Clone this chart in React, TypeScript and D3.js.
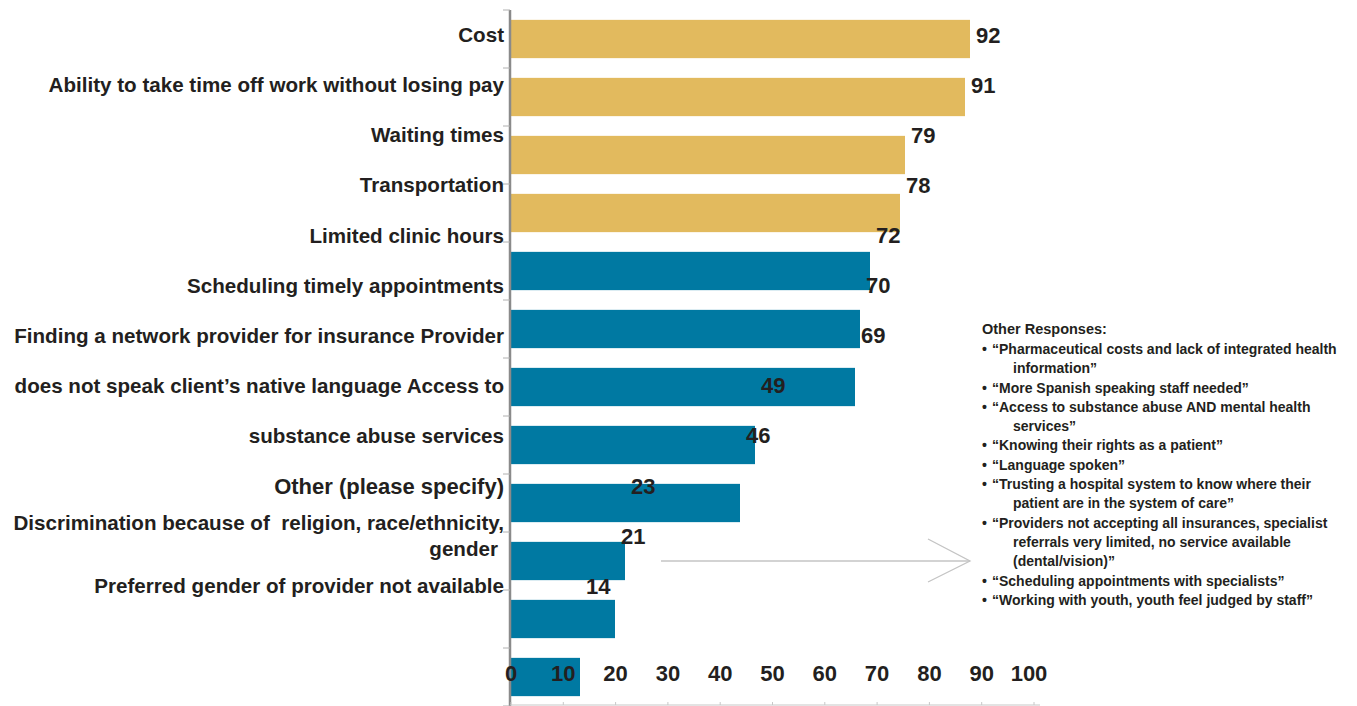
import React from "react";
import * as d3 from "d3";

// ---- data ----
const categories = [
  "Cost",
  "Ability to take time off work without losing pay",
  "Waiting times",
  "Transportation",
  "Limited clinic hours",
  "Scheduling timely appointments",
  "Finding a network provider for insurance",
  "Provider does not speak client’s native language",
  "Access to substance abuse services",
  "Other (please specify)",
  "Discrimination because of religion, race/ethnicity, gender",
  "Preferred gender of provider not available",
];
const values = [92, 91, 79, 78, 72, 70, 69, 49, 46, 23, 21, 14];
const highlightCount = 4; // first four bars are gold

// category text lines, as they are set in the reference
const labelLines: string[][] = [
  ["Cost"],
  ["Ability to take time off work without losing pay"],
  ["Waiting times"],
  ["Transportation"],
  ["Limited clinic hours"],
  ["Scheduling timely appointments"],
  ["Finding a network provider for insurance Provider"],
  ["does not speak client’s native language Access to"],
  ["substance abuse services"],
  ["Other (please specify)"],
  ["Discrimination because of  religion, race/ethnicity,", "gender"],
  ["Preferred gender of provider not available"],
];
const labelSizes = [20.6, 20.6, 20.6, 20.6, 20.6, 20.6, 20.6, 20.6, 20.6, 22, 20.6, 20.6];

const xTicks = [0, 10, 20, 30, 40, 50, 60, 70, 80, 90, 100];

const otherTitle = "Other Responses:";
const otherResponses: string[][] = [
  ["“Pharmaceutical costs and lack of integrated health", "information”"],
  ["“More Spanish speaking staff needed”"],
  ["“Access to substance abuse AND mental health", "services”"],
  ["“Knowing their rights as a patient”"],
  ["“Language spoken”"],
  ["“Trusting a hospital system to know where their", "patient are in the system of care”"],
  [
    "“Providers not accepting all insurances, specialist",
    "referrals very limited, no service available",
    "(dental/vision)”",
  ],
  ["“Scheduling appointments with specialists”"],
  ["“Working with youth, youth feel judged by staff”"],
];

// ---- styles ----
const W = 1357;
const H = 706;
const GOLD = "#E2BA5E";
const BLUE = "#0079A2";
const TEXT = "#231F20";
const FONT = "'Liberation Sans', Arial, Helvetica, sans-serif";

export default function App() {
  const idx = values.map((_, i) => i);

  const yTop = 10;
  const yBottom = 706;
  const axisX = 510;

  const yBand = d3
    .scaleBand<number>()
    .domain(idx)
    .range([yTop, yBottom])
    .paddingInner(0.34)
    .paddingOuter(0.17);

  const yBound = d3.scaleLinear().domain([0, idx.length]).range([yTop, yBottom]);

  // bar length scale
  const xBar = d3.scaleLinear().domain([0, 100]).range([axisX, axisX + 500]);
  // tick label scale (as printed in the reference)
  const xTick = d3.scaleLinear().domain([0, 100]).range([axisX + 1, axisX + 524]);

  // label rows (category text + value labels)
  const yRow = d3.scalePoint<number>().domain(idx).range([35, 586]);

  // other responses layout: uniform line step
  const respLines: { text: string; first: boolean }[] = [];
  otherResponses.forEach((item) => {
    item.forEach((t, j) => respLines.push({ text: t, first: j === 0 }));
  });
  const yResp = d3
    .scaleLinear()
    .domain([0, respLines.length - 1])
    .range([349, 600]);

  const bottomAxisY = 705;

  return (
    <svg
      width={W}
      height={H}
      style={{ position: "absolute", left: 0, top: 0, display: "block", background: "#fff" }}
      fontFamily={FONT}
    >
      {/* bars */}
      {idx.map((i) => (
        <rect
          key={"bar" + i}
          x={xBar(0)}
          y={yBand(i)}
          width={xBar(values[i]) - xBar(0)}
          height={yBand.bandwidth()}
          fill={i < highlightCount ? GOLD : BLUE}
        >
          <title>{categories[i] + ": " + values[i]}</title>
        </rect>
      ))}

      {/* vertical axis */}
      <line x1={axisX} x2={axisX} y1={yTop} y2={yBottom} stroke="#8a8a8a" strokeWidth={2.5} />
      {d3.range(idx.length + 1).map((b) => (
        <line
          key={"yt" + b}
          x1={axisX - 7}
          x2={axisX}
          y1={yBound(b)}
          y2={yBound(b)}
          stroke="#b0b0b0"
          strokeWidth={1}
        />
      ))}

      {/* bottom axis */}
      <line
        x1={axisX}
        x2={xTick(100) + 6}
        y1={bottomAxisY}
        y2={bottomAxisY}
        stroke="#c8c8c8"
        strokeWidth={1.2}
      />
      {xTicks.map((t) => (
        <line
          key={"xt" + t}
          x1={xTick(t)}
          x2={xTick(t)}
          y1={bottomAxisY}
          y2={bottomAxisY - 3}
          stroke="#c8c8c8"
          strokeWidth={1}
        />
      ))}
      {xTicks.map((t) => (
        <text
          key={"xl" + t}
          x={t === 100 ? xTick(t) - 5 : xTick(t)}
          y={673}
          dy="0.35em"
          textAnchor="middle"
          fontSize={22}
          fontWeight="bold"
          fill={TEXT}
        >
          {t}
        </text>
      ))}

      {/* category labels */}
      {idx.map((i) => {
        const lines = labelLines[i];
        const lh = 26;
        const y0 = yRow(i)! - ((lines.length - 1) * lh) / 2;
        return (
          <text
            key={"cl" + i}
            x={504}
            textAnchor="end"
            fontSize={labelSizes[i]}
            fontWeight="bold"
            fill={TEXT}
          >
            {lines.map((l, j) => (
              <tspan key={j} x={j > 0 ? 498 : 504} y={y0 + j * lh} dy="0.35em" style={{ whiteSpace: "pre" }}>
                {l}
              </tspan>
            ))}
          </text>
        );
      })}

      {/* value labels */}
      {idx.map((i) => (
        <text
          key={"vl" + i}
          x={xBar(values[i]) + 6}
          y={yRow(i)}
          dy="0.35em"
          textAnchor="start"
          fontSize={22}
          fontWeight="bold"
          fill={TEXT}
        >
          {values[i]}
        </text>
      ))}

      {/* arrow */}
      <g stroke="#c4c4c4" strokeWidth={1.3} fill="none">
        <line x1={661} x2={970} y1={561} y2={561} />
        <polyline points="928,539 970,561 928,582" />
      </g>

      {/* other responses */}
      <text x={982} y={329} dy="0.35em" fontSize={14.5} fontWeight="bold" fill={TEXT}>
        {otherTitle}
      </text>
      {respLines.map((r, k) => (
        <g key={"r" + k}>
          {r.first && (
            <text x={982} y={yResp(k)} dy="0.35em" fontSize={14} fontWeight="bold" fill={TEXT}>
              •
            </text>
          )}
          <text
            x={r.first ? 992 : 1013}
            y={yResp(k)}
            dy="0.35em"
            fontSize={14}
            fontWeight="bold"
            fill={TEXT}
          >
            {r.text}
          </text>
        </g>
      ))}
    </svg>
  );
}
